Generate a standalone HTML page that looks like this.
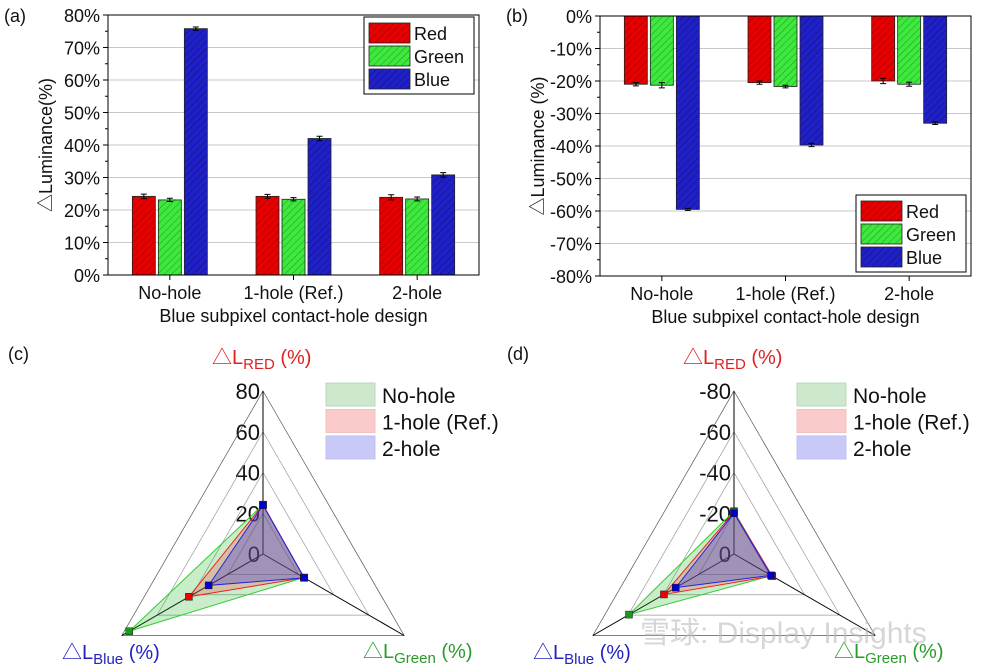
<!DOCTYPE html>
<html><head><meta charset="utf-8"><style>
html,body{margin:0;padding:0;background:#fff;}
svg{display:block;font-family:"Liberation Sans","Noto Sans CJK SC",sans-serif;}
</style></head><body>
<svg id="fig" width="986" height="670" viewBox="0 0 986 670" xmlns="http://www.w3.org/2000/svg">
<defs>
<pattern id="hR" patternUnits="userSpaceOnUse" width="5" height="5" patternTransform="rotate(45)"><rect width="5" height="5" fill="#e60000"/><line x1="0" y1="0" x2="0" y2="5" stroke="#900" stroke-width="1"/></pattern>
<pattern id="hG" patternUnits="userSpaceOnUse" width="5" height="5" patternTransform="rotate(45)"><rect width="5" height="5" fill="#3ee83e"/><line x1="0" y1="0" x2="0" y2="5" stroke="#1a9a1a" stroke-width="1"/></pattern>
<pattern id="hB" patternUnits="userSpaceOnUse" width="5" height="5" patternTransform="rotate(45)"><rect width="5" height="5" fill="#2020c8"/><line x1="0" y1="0" x2="0" y2="5" stroke="#101070" stroke-width="1"/></pattern>
</defs>
<g font-size="18" fill="#111">
<text x="4" y="22">(a)</text>
<text x="506" y="22">(b)</text>
<text x="8" y="360">(c)</text>
<text x="507" y="360">(d)</text>
</g>
<g id="pa"></g>
<g id="pb"></g>
<g id="pc"></g>
<g id="pd"></g>
<g font-size="20">
<text x="212" y="364" fill="#e02020">△L<tspan font-size="15" dy="5">RED</tspan><tspan dy="-5"> (%)</tspan></text>
<text x="62" y="659" fill="#2222c0">△L<tspan font-size="15" dy="5">Blue</tspan><tspan dy="-5"> (%)</tspan></text>
<text x="363" y="658" fill="#2a9a2a">△L<tspan font-size="15" dy="5">Green</tspan><tspan dy="-5"> (%)</tspan></text>
<text x="683" y="364" fill="#e02020">△L<tspan font-size="15" dy="5">RED</tspan><tspan dy="-5"> (%)</tspan></text>
<text x="533" y="659" fill="#2222c0">△L<tspan font-size="15" dy="5">Blue</tspan><tspan dy="-5"> (%)</tspan></text>
<text x="834" y="658" fill="#2a9a2a">△L<tspan font-size="15" dy="5">Green</tspan><tspan dy="-5"> (%)</tspan></text>
</g>
<text x="640" y="643" font-size="30" fill="#bbb" opacity="0.6">雪球: Display Insights</text>
</svg>
<script>
const categories = ['No-hole', '1-hole (Ref.)', '2-hole'];
const seriesNames = ['Red', 'Green', 'Blue'];
const aRed = [24.2, 24.2, 23.9];
const aGreen = [23.1, 23.3, 23.4];
const aBlue = [75.8, 42.0, 30.8];
const aRedErr = [0.7, 0.6, 0.8];
const aGreenErr = [0.5, 0.5, 0.6];
const aBlueErr = [0.5, 0.7, 0.7];
const bRed = [-21.0, -20.5, -20.0];
const bGreen = [-21.3, -21.7, -21.0];
const bBlue = [-59.5, -39.7, -33.0];
const bRedErr = [0.5, 0.5, 0.8];
const bGreenErr = [0.8, 0.4, 0.6];
const bBlueErr = [0.3, 0.5, 0.4];
const aTickVals = [0, 10, 20, 30, 40, 50, 60, 70, 80];
const aTickLabels = ['0%', '10%', '20%', '30%', '40%', '50%', '60%', '70%', '80%'];
const bTickVals = [0, -10, -20, -30, -40, -50, -60, -70, -80];
const bTickLabels = ['0%', '-10%', '-20%', '-30%', '-40%', '-50%', '-60%', '-70%', '-80%'];
const radarCats = ['No-hole', '1-hole (Ref.)', '2-hole'];
const cRed = [24.2, 24.2, 23.9];
const cGreen = [23.1, 23.3, 23.4];
const cBlue = [75.8, 42.0, 30.8];
const dRed = [-21.0, -20.5, -20.0];
const dGreen = [-21.3, -21.7, -21.0];
const dBlue = [-59.5, -39.7, -33.0];
const cTickVals = [0, 20, 40, 60, 80];
const cTickLabels = ['0', '20', '40', '60', '80'];
const dTickVals = [0, -20, -40, -60, -80];
const dTickLabels = ['0', '-20', '-40', '-60', '-80'];

const NS = 'http://www.w3.org/2000/svg';
function mk(tag, attrs, parent, txt) {
  const e = document.createElementNS(NS, tag);
  for (const k in attrs) e.setAttribute(k, attrs[k]);
  if (txt !== undefined) e.textContent = txt;
  parent.appendChild(e);
  return e;
}

function barChart(g, cfg) {
  const {x0, x1, yTop, yBot, vTop, vBot, tickVals, tickLabels, series, errs, legend} = cfg;
  const ys = v => yTop + (v - vTop) / (vBot - vTop) * (yBot - yTop);
  const n = categories.length;
  const xc = i => x0 + (x1 - x0) * (i + 0.5) / n;
  tickVals.forEach((v, i) => {
    const y = ys(v);
    if (i > 0 && i < tickVals.length - 1) {
      const gl = mk('line', {x1: x0, x2: x1, y1: y, y2: y, stroke: '#c8c8c8', 'stroke-width': 1}, g);
      
      
    }
    const tk = mk('line', {x1: x0 - 5, x2: x0, y1: y, y2: y, stroke: '#000'}, g);
    
    
    const tl = mk('text', {x: x0 - 8, y: y + 7, 'text-anchor': 'end', 'font-size': 18, fill: '#111'}, g, tickLabels[i]);
    
    
    if (i < tickVals.length - 1) {
      const ym = ys((v + tickVals[i + 1]) / 2);
      const mt = mk('line', {x1: x0 - 3, x2: x0, y1: ym, y2: ym, stroke: '#000'}, g);
      
      
    }
  });
  const fills = ['url(#hR)', 'url(#hG)', 'url(#hB)'];
  const offs = [-26, 0, 26];
  const bw = 23;
  const base = ys(0);
  categories.forEach((c, i) => {
    series.forEach((s, k) => {
      const yv = ys(s[i]);
      const b = mk('rect', {x: xc(i) + offs[k] - bw / 2, y: Math.min(yv, base), width: bw, height: Math.abs(yv - base), fill: fills[k], stroke: '#222', 'stroke-width': 0.8}, g);
      
      
      const e1 = ys(s[i] + errs[k][i]), e2 = ys(s[i] - errs[k][i]);
      const xm = xc(i) + offs[k];
      const eb = mk('path', {d: `M${xm},${e1}V${e2}M${xm - 3},${e1}H${xm + 3}M${xm - 3},${e2}H${xm + 3}`, stroke: '#000', 'stroke-width': 1, fill: 'none'}, g);
      
      
    });
    const xt = mk('text', {x: xc(i), y: yBot + 24, 'text-anchor': 'middle', 'font-size': 18, fill: '#111'}, g, c);
    
    
    const xtk = mk('line', {x1: xc(i), x2: xc(i), y1: yBot, y2: yBot + 5, stroke: '#000'}, g);
    
    
  });
  const fr = mk('rect', {x: x0, y: yTop, width: x1 - x0, height: yBot - yTop, fill: 'none', stroke: '#000', 'stroke-width': 1}, g);
  
  
  const xtt = mk('text', {x: (x0 + x1) / 2, y: yBot + 47, 'text-anchor': 'middle', 'font-size': 18, fill: '#111'}, g, 'Blue subpixel contact-hole design');
  
  
  const ytt = mk('text', {transform: `translate(${x0 - 56},${(yTop + yBot) / 2}) rotate(-90)`, 'text-anchor': 'middle', 'font-size': 18, fill: '#111'}, g, cfg.ytitle);
  
  
  const lg = mk('g', {}, g);
  
  
  const lb = mk('rect', {x: legend.x, y: legend.y, width: 110, height: 77, fill: '#fff', stroke: '#000'}, lg);
  
  
  seriesNames.forEach((nm, k) => {
    const sw = mk('rect', {x: legend.x + 5, y: legend.y + 6 + k * 23, width: 41, height: 20, fill: fills[k], stroke: '#222', 'stroke-width': 0.8}, lg);
    
    
    const lt = mk('text', {x: legend.x + 50, y: legend.y + 23 + k * 23, 'font-size': 18, fill: '#111'}, lg, nm);
    
    
  });
}

barChart(document.getElementById('pa'), {x0: 108, x1: 479, yTop: 15, yBot: 275, vTop: 80, vBot: 0,
  tickVals: aTickVals, tickLabels: aTickLabels, series: [aRed, aGreen, aBlue], errs: [aRedErr, aGreenErr, aBlueErr],
  legend: {x: 364, y: 17}, ytitle: '△Luminance(%)'});
barChart(document.getElementById('pb'), {x0: 600, x1: 971, yTop: 16, yBot: 276, vTop: 0, vBot: -80,
  tickVals: bTickVals, tickLabels: bTickLabels, series: [bRed, bGreen, bBlue], errs: [bRedErr, bGreenErr, bBlueErr],
  legend: {x: 856, y: 195}, ytitle: '△Luminance (%)'});

function radar(g, cfg) {
  const {cx, cy, R, vmax, tickVals, tickLabels, red, green, blue, lx} = cfg;
  const angs = [-90, 30, 150];
  const pt = (a, v) => {
    const r = Math.abs(v) / Math.abs(vmax) * R;
    const t = angs[a] * Math.PI / 180;
    return [cx + r * Math.cos(t), cy + r * Math.sin(t)];
  };
  tickVals.forEach((v, i) => {
    if (v !== 0) {
      const ps = [0, 1, 2].map(a => pt(a, v).join(',')).join(' ');
      const tri = mk('polygon', {points: ps, fill: 'none', stroke: i === tickVals.length - 1 ? '#555' : '#999', 'stroke-width': 0.7}, g);
      
      
    }
    const p = pt(0, v);
    const tl = mk('text', {x: cx - 3, y: p[1] + 8, 'text-anchor': 'end', 'font-size': 22, fill: '#111'}, g, tickLabels[i]);
    
    
  });
  [0, 1, 2].forEach(a => {
    const p = pt(a, vmax);
    const al = mk('line', {x1: cx, y1: cy, x2: p[0], y2: p[1], stroke: '#000', 'stroke-width': 1}, g);
    
    
  });
  const fills = ['rgba(40,180,40,0.25)', 'rgba(255,60,60,0.25)', 'rgba(40,40,230,0.3)'];
  const strokes = ['#3c3', '#e22', '#22d'];
  const mcol = ['#1a9a1a', '#e00', '#00c'];
  radarCats.forEach((c, i) => {
    const vals = [red[i], green[i], blue[i]];
    const ps = vals.map((v, a) => pt(a, v));
    const poly = mk('polygon', {points: ps.map(p => p.join(',')).join(' '), fill: fills[i], stroke: strokes[i], 'stroke-width': 1}, g);
    
    
  });
  radarCats.forEach((c, i) => {
    const vals = [red[i], green[i], blue[i]];
    vals.forEach((v, a) => {
      const p = pt(a, v);
      const m = mk('rect', {x: p[0] - 3.5, y: p[1] - 3.5, width: 7, height: 7, fill: mcol[i], stroke: '#222', 'stroke-width': 0.5}, g);
      
      
    });
  });
  const lfill = ['#cde8cd', '#fbcaca', '#c9c9f7'];
  const lst = ['#bcd8bc', '#f0c0c0', '#c0c0ee'];
  radarCats.forEach((c, i) => {
    const sw = mk('rect', {x: lx, y: 383 + i * 26.5, width: 49, height: 23, fill: lfill[i], stroke: lst[i]}, g);
    
    
    const t = mk('text', {x: lx + 56, y: 403 + i * 26.5, 'font-size': 21, fill: '#111'}, g, c);
    
    
  });
}
radar(document.getElementById('pc'), {cx: 263, cy: 554, R: 163, vmax: 80, tickVals: cTickVals, tickLabels: cTickLabels, red: cRed, green: cGreen, blue: cBlue, lx: 326});
radar(document.getElementById('pd'), {cx: 734, cy: 554, R: 163, vmax: -80, tickVals: dTickVals, tickLabels: dTickLabels, red: dRed, green: dGreen, blue: dBlue, lx: 797});
</script>
</body></html>
